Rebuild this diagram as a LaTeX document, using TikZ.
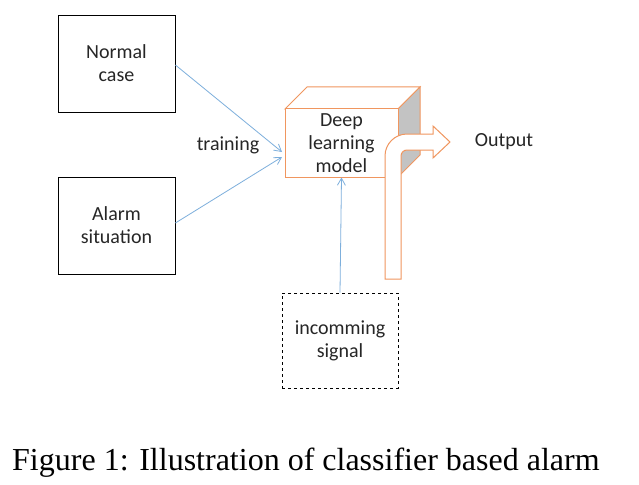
\documentclass[tikz,border=0pt]{standalone}
\usepackage{fontspec}
\setmainfont{Carlito}
\newfontfamily\capfont{Liberation Serif}
\usetikzlibrary{arrows.meta}
\definecolor{boxorange}{RGB}{240,150,95}
\definecolor{lineblue}{RGB}{125,175,220}
\definecolor{facegray}{RGB}{195,195,195}
\begin{document}
\begin{tikzpicture}[x=1pt,y=-1pt,
  txt/.style={font=\fontsize{20}{23}\selectfont, text=black!85, align=center, inner sep=0pt},
  plainbox/.style={txt, draw=black, line width=0.8pt, minimum width=117pt, minimum height=97pt},
  dashbox/.style={txt, draw=black, dashed, line width=0.8pt, minimum width=116pt, minimum height=95pt},
  feed/.style={draw=lineblue, line width=0.8pt, -{Straight Barb[length=7pt,width=8pt]}},
  orangeline/.style={draw=boxorange, line width=1pt}
]
\useasboundingbox (0,0) rectangle (639,484);
\fill[white] (0,0) rectangle (639,484);

% input boxes
\node[plainbox] (normal) at (116.5,63.5) {Normal\\case};
\node[plainbox] (alarm) at (116.5,225.5) {Alarm\\situation};
\node[dashbox] (incoming) at (340,340.5) {incomming\\signal};

% cube
\coordinate (ftl) at (285,109);
\coordinate (ftr) at (398,109);
\coordinate (fbr) at (398,177);
\coordinate (btl) at (307,87);
\coordinate (btr) at (420,87);
\coordinate (bbr) at (420,155);
\filldraw[orangeline, fill=white] (ftl) -- (btl) -- (btr) -- (ftr) -- cycle;
\filldraw[orangeline, fill=facegray] (ftr) -- (btr) -- (bbr) -- (fbr) -- cycle;
\node[txt, orangeline, fill=white, minimum width=113pt, minimum height=68pt] (dl) at (341.5,143) {Deep\\learning\\model};

% bent output arrow
\filldraw[orangeline, fill=white]
  (385,279) -- (385,156) arc[start angle=180, end angle=270, radius=22] -- (433,134)
  -- (433,126) -- (450,142) -- (433,158) -- (433,150) -- (407,150)
  arc[start angle=270, end angle=180, radius=6] -- (401,279) -- cycle;
\node[txt] (out) at (504,142) {Output};

% connectors
\coordinate (in1) at (282,152);
\coordinate (in2) at (282,157);
\draw[feed] (normal.east |- 0,65) -- (in1);
\draw[feed] (alarm.east |- 0,223) -- (in2);
\node[txt] (train) at (228,145) {training};
\draw[feed] (incoming.north) -- (dl.south);

% caption
\node[font=\capfont\fontsize{32}{36}\selectfont, inner sep=0pt, anchor=base west] (cap) at (12,470) {Figure 1: Illustration of classifier based alarm};
\end{tikzpicture}
\end{document}
